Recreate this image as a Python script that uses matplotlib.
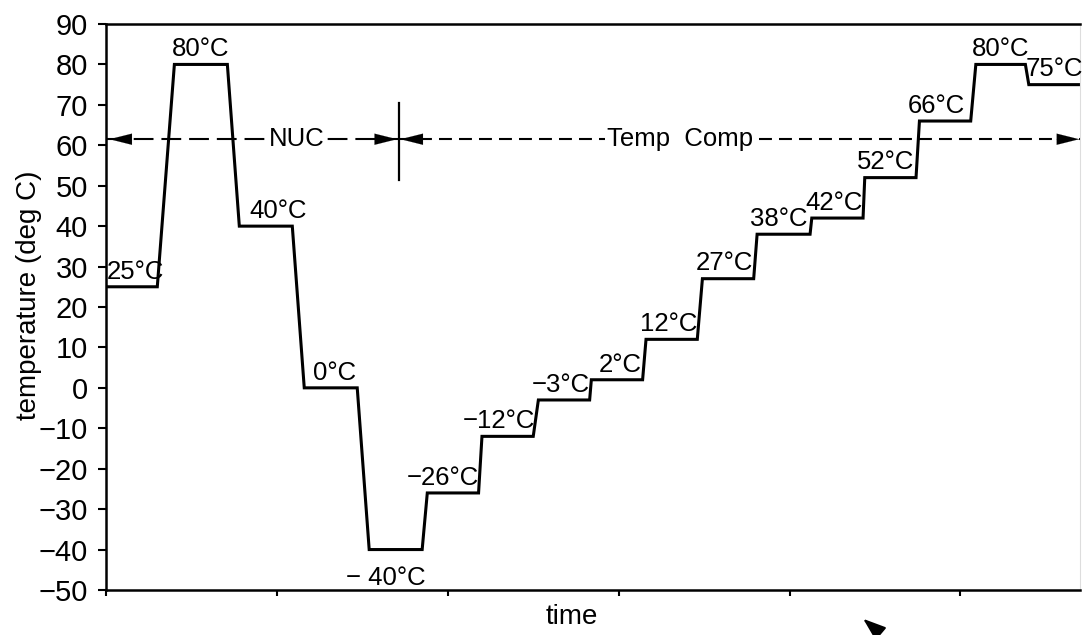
import matplotlib
matplotlib.use("Agg")
import matplotlib.pyplot as plt

plt.rcParams['font.family'] = ['Liberation Sans', 'DejaVu Sans']

# Temperature hold steps (deg C) and when each hold starts / ends (time units)
step_temps = [25, 80, 40, 0, -40, -26, -12, -3, 2, 12, 27, 38, 42, 52, 66, 80, 75]
hold_start = [0.00, 0.40, 0.78, 1.16, 1.54, 1.88, 2.20, 2.53, 2.84, 3.16,
              3.49, 3.81, 4.13, 4.44, 4.76, 5.09, 5.40]
hold_end = [0.30, 0.71, 1.09, 1.47, 1.85, 2.18, 2.50, 2.83, 3.14, 3.46,
            3.79, 4.12, 4.43, 4.74, 5.06, 5.38, 5.70]
step_labels = ["25°C", "80°C", "40°C", "0°C", "− 40°C", "−26°C", "−12°C", "−3°C",
               "2°C", "12°C", "27°C", "38°C", "42°C", "52°C", "66°C", "80°C", "75°C"]

# phase markers
phase_level = 61.5
phase_split = 1.713
time_ticks = [0, 1, 2, 3, 4, 5]
temp_ticks = list(range(-50, 91, 10))

# label nudges (time units) so the text sits like in the drawing
label_dx = [0.02, 0, 0.07, 0.02, -0.06, -0.06, -0.05, -0.02, 0.02, -0.02,
            -0.02, -0.03, -0.02, -0.03, -0.05, 0, 0.0]

fig = plt.figure(figsize=(10.83, 6.35), dpi=100)
ax = fig.add_axes([0.0979, 0.0709, 0.8994, 0.8913])

# build the profile line from the holds
xs, ys = [], []
for s, e, t in zip(hold_start, hold_end, step_temps):
    xs += [s, e]
    ys += [t, t]
ax.plot(xs, ys, color='black', lw=2.2, solid_joinstyle='miter')

for s, e, t, lab, dx in zip(hold_start, hold_end, step_temps, step_labels, label_dx):
    xm = (s + e) / 2 + dx
    if t == -40:
        ax.text(xm, t - 4, lab, ha='center', va='top', fontsize=18.5)
    else:
        ax.text(xm, t + 0.8, lab, ha='center', va='bottom', fontsize=18.5)

# dashed phase line with arrows
xmax = hold_end[-1]
ax.plot([0, phase_split], [phase_level, phase_level], color='black', lw=1.5,
        dashes=(9.5, 3.8))
ax.plot([phase_split, xmax], [phase_level, phase_level], color='black', lw=1.5,
        dashes=(6.2, 3.4))
ax.plot([phase_split, phase_split], [51.5, 70.5], color='black', lw=1.6)
head = dict(arrowstyle='-|>,head_length=0.8,head_width=0.2', color='black',
            lw=0.1, shrinkA=0, shrinkB=0, mutation_scale=20)
for tip, tail in [(0.02, 0.15), (phase_split - 0.01, phase_split - 0.15),
                  (phase_split + 0.01, phase_split + 0.15), (xmax - 0.005, xmax - 0.14)]:
    ax.annotate('', xy=(tip, phase_level), xytext=(tail, phase_level), arrowprops=head)
ax.text(1.117, phase_level, "NUC", ha='center', va='center', fontsize=18.5,
        bbox=dict(fc='white', ec='none', pad=1))
ax.text(3.357, phase_level, "Temp  Comp", ha='center', va='center', fontsize=18.5,
        bbox=dict(fc='white', ec='none', pad=1))

ax.set_xlim(0, xmax)
ax.set_ylim(-50, 90)
ax.set_yticks(temp_ticks)
ax.set_yticklabels([str(v).replace('-', '−') for v in temp_ticks], fontsize=21)
ax.set_xticks(time_ticks)
ax.set_xticklabels([])
ax.tick_params(axis='y', direction='out', length=6, width=1.5, pad=7)
ax.tick_params(axis='x', direction='out', length=4, width=1.5)
for side in ['left', 'bottom', 'top']:
    ax.spines[side].set_linewidth(1.8)
ax.spines['right'].set_linewidth(0.8)
ax.spines['right'].set_color('#dddddd')

ax.set_ylabel("temperature (deg C)", fontsize=20)
ax.yaxis.set_label_coords(-0.066, 0.52)
ax.set_xlabel("time", fontsize=20)
ax.xaxis.set_label_coords(0.478, -0.024)

# small reference arrow under the axis
ax.annotate('', xy=(861, 18), xycoords='figure pixels', xytext=(880, 2),
            textcoords='figure pixels',
            arrowprops=dict(arrowstyle='-|>,head_length=0.7,head_width=0.25',
                            color='black', lw=1.5, mutation_scale=20))

fig.savefig("out.png", dpi=100)
